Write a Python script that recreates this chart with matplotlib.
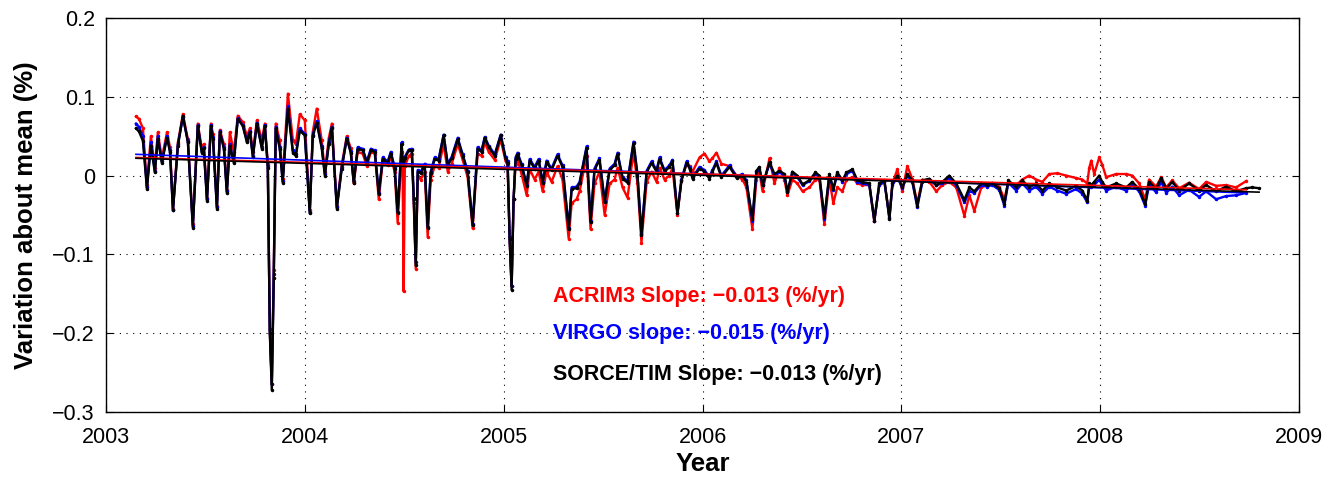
#!/usr/bin/env python3
# coding: utf-8

import numpy as np
import matplotlib
matplotlib.use("Agg")
import matplotlib.pyplot as plt

# decimal year of each sample
years = [
    2003.151, 2003.166, 2003.186, 2003.206, 2003.226, 2003.246, 2003.261, 2003.281, 2003.307, 2003.322,
    2003.337, 2003.362, 2003.387, 2003.412, 2003.437, 2003.462, 2003.482, 2003.492, 2003.508, 2003.528,
    2003.538, 2003.558, 2003.573, 2003.593, 2003.608, 2003.623, 2003.643, 2003.663, 2003.688, 2003.709,
    2003.724, 2003.739, 2003.759, 2003.784, 2003.799, 2003.814, 2003.824, 2003.834, 2003.844, 2003.854,
    2003.874, 2003.889, 2003.915, 2003.940, 2003.955, 2003.975, 2004.000, 2004.025, 2004.040, 2004.060,
    2004.085, 2004.101, 2004.121, 2004.136, 2004.161, 2004.186, 2004.211, 2004.231, 2004.246, 2004.266,
    2004.291, 2004.312, 2004.332, 2004.352, 2004.372, 2004.392, 2004.417, 2004.432, 2004.452, 2004.467,
    2004.487, 2004.492, 2004.497, 2004.503, 2004.523, 2004.538, 2004.548, 2004.558, 2004.568, 2004.583,
    2004.603, 2004.618, 2004.633, 2004.653, 2004.673, 2004.698, 2004.719, 2004.739, 2004.769, 2004.794,
    2004.819, 2004.844, 2004.869, 2004.889, 2004.905, 2004.925, 2004.955, 2004.985, 2005.010, 2005.020,
    2005.030, 2005.040, 2005.050, 2005.060, 2005.070, 2005.090, 2005.116, 2005.131, 2005.156, 2005.176,
    2005.196, 2005.216, 2005.241, 2005.271, 2005.296, 2005.327, 2005.342, 2005.367, 2005.382, 2005.417,
    2005.437, 2005.457, 2005.482, 2005.508, 2005.533, 2005.558, 2005.573, 2005.598, 2005.623, 2005.653,
    2005.673, 2005.693, 2005.719, 2005.744, 2005.769, 2005.784, 2005.809, 2005.834, 2005.849, 2005.874,
    2005.894, 2005.920, 2005.935, 2005.950, 2005.985, 2006.010, 2006.035, 2006.050, 2006.070, 2006.095,
    2006.136, 2006.171, 2006.201, 2006.221, 2006.251, 2006.271, 2006.286, 2006.302, 2006.337, 2006.362,
    2006.387, 2006.412, 2006.427, 2006.452, 2006.477, 2006.503, 2006.538, 2006.568, 2006.588, 2006.613,
    2006.638, 2006.658, 2006.678, 2006.704, 2006.724, 2006.754, 2006.779, 2006.804, 2006.839, 2006.864,
    2006.889, 2006.915, 2006.940, 2006.955, 2006.980, 2007.005, 2007.030, 2007.055, 2007.080, 2007.106,
    2007.141, 2007.176, 2007.206, 2007.241, 2007.276, 2007.317, 2007.342, 2007.367, 2007.402, 2007.432,
    2007.457, 2007.492, 2007.518, 2007.538, 2007.578, 2007.608, 2007.643, 2007.678, 2007.709, 2007.744,
    2007.784, 2007.829, 2007.879, 2007.910, 2007.935, 2007.945, 2007.955, 2007.970, 2007.995, 2008.010,
    2008.030, 2008.080, 2008.131, 2008.161, 2008.196, 2008.226, 2008.246, 2008.281, 2008.307, 2008.332,
    2008.362, 2008.397, 2008.447, 2008.497, 2008.533, 2008.583, 2008.633, 2008.683, 2008.734, 2008.764,
    2008.799,
]

# SORCE/TIM variation about mean (%)
tim = [
    0.060, 0.056, 0.044, -0.017, 0.038, 0.004, 0.047, 0.016, 0.048, 0.030,
    -0.044, 0.038, 0.076, 0.042, -0.066, 0.063, 0.029, 0.035, -0.032, 0.063,
    0.047, -0.042, 0.055, 0.034, -0.022, 0.038, 0.016, 0.072, 0.063, 0.042,
    0.055, 0.023, 0.066, 0.034, 0.063, 0.010, -0.200, -0.272, -0.130, 0.060,
    0.034, -0.009, 0.085, 0.029, 0.025, 0.057, 0.051, -0.048, 0.050, 0.067,
    0.035, 0.000, 0.040, 0.061, -0.042, 0.009, 0.047, 0.029, -0.009, 0.034,
    0.032, 0.016, 0.032, 0.030, -0.023, 0.021, 0.016, 0.028, 0.009, -0.047,
    0.040, 0.016, 0.020, 0.022, 0.032, 0.032, -0.030, -0.114, 0.005, 0.003,
    0.013, -0.066, 0.003, 0.021, 0.019, 0.051, 0.013, 0.022, 0.046, 0.025,
    0.004, -0.063, 0.034, 0.030, 0.048, 0.036, 0.025, 0.051, 0.021, 0.016,
    -0.080, -0.145, -0.030, 0.021, 0.027, 0.013, -0.013, 0.019, 0.009, 0.019,
    -0.009, 0.017, 0.007, 0.025, 0.011, -0.068, -0.017, -0.016, -0.010, 0.035,
    -0.059, 0.007, 0.020, -0.034, 0.007, 0.013, 0.027, -0.004, -0.009, 0.041,
    0.000, -0.076, 0.004, 0.016, 0.005, 0.021, 0.005, 0.011, 0.018, -0.048,
    -0.007, 0.016, 0.009, -0.004, 0.009, 0.005, -0.004, 0.005, 0.016, -0.002,
    0.011, -0.003, 0.000, -0.008, -0.055, 0.006, 0.011, -0.012, 0.017, 0.002,
    0.006, 0.002, -0.021, 0.005, 0.000, -0.011, -0.006, 0.004, 0.000, -0.053,
    0.002, -0.017, 0.004, -0.006, 0.004, 0.008, -0.006, -0.008, -0.010, -0.057,
    -0.010, -0.006, -0.055, -0.010, 0.000, -0.015, 0.002, -0.006, -0.038, -0.006,
    -0.004, -0.012, -0.008, 0.000, -0.010, -0.031, -0.015, -0.020, -0.010, -0.012,
    -0.010, -0.016, -0.036, -0.006, -0.015, -0.006, -0.015, -0.010, -0.019, -0.010,
    -0.015, -0.019, -0.013, -0.019, -0.032, -0.010, -0.012, -0.008, 0.000, -0.008,
    -0.015, -0.010, -0.015, -0.008, -0.017, -0.036, -0.008, -0.017, -0.003, -0.017,
    -0.008, -0.019, -0.010, -0.019, -0.012, -0.020, -0.014, -0.020, -0.016, -0.015,
    -0.016,
]

# VIRGO variation about mean (%), ends before TIM
virgo = [
    0.066, 0.062, 0.050, -0.015, 0.042, 0.006, 0.050, 0.018, 0.050, 0.032,
    -0.044, 0.040, 0.074, 0.044, -0.064, 0.064, 0.030, 0.036, -0.030, 0.064,
    0.049, -0.040, 0.056, 0.036, -0.020, 0.040, 0.018, 0.073, 0.064, 0.044,
    0.056, 0.025, 0.067, 0.036, 0.064, 0.012, -0.195, -0.265, -0.125, 0.062,
    0.036, -0.007, 0.088, 0.032, 0.027, 0.060, 0.053, -0.046, 0.052, 0.069,
    0.037, 0.002, 0.042, 0.062, -0.040, 0.011, 0.048, 0.031, -0.007, 0.036,
    0.034, 0.018, 0.034, 0.032, -0.022, 0.023, 0.018, 0.030, 0.011, -0.046,
    0.042, 0.018, 0.022, 0.024, 0.033, 0.034, -0.028, -0.110, 0.007, 0.005,
    0.015, -0.065, 0.005, 0.023, 0.021, 0.052, 0.015, 0.024, 0.048, 0.027,
    0.006, -0.061, 0.036, 0.032, 0.049, 0.038, 0.027, 0.052, 0.023, 0.018,
    -0.078, -0.140, -0.030, 0.023, 0.029, 0.015, -0.012, 0.021, 0.011, 0.021,
    -0.008, 0.019, 0.009, 0.027, 0.013, -0.066, -0.015, -0.014, -0.008, 0.037,
    -0.057, 0.009, 0.022, -0.032, 0.009, 0.015, 0.029, -0.002, -0.007, 0.043,
    0.002, -0.074, 0.006, 0.018, 0.007, 0.023, 0.007, 0.013, 0.020, -0.047,
    -0.005, 0.018, 0.011, -0.002, 0.011, 0.007, -0.002, 0.007, 0.018, 0.000,
    0.013, -0.001, 0.002, -0.006, -0.058, 0.004, 0.009, -0.012, 0.015, 0.000,
    0.004, 0.000, -0.020, 0.003, -0.002, -0.012, -0.007, 0.002, -0.002, -0.055,
    0.000, -0.018, 0.002, -0.008, 0.002, 0.006, -0.008, -0.010, -0.012, -0.057,
    -0.012, -0.008, -0.054, -0.012, -0.002, -0.016, 0.000, -0.008, -0.040, -0.008,
    -0.006, -0.012, -0.010, -0.003, -0.012, -0.034, -0.020, -0.022, -0.012, -0.014,
    -0.012, -0.018, -0.038, -0.009, -0.019, -0.010, -0.019, -0.014, -0.023, -0.014,
    -0.019, -0.023, -0.017, -0.023, -0.034, -0.014, -0.015, -0.012, -0.005, -0.012,
    -0.019, -0.014, -0.019, -0.012, -0.020, -0.038, -0.012, -0.021, -0.008, -0.022,
    -0.014, -0.025, -0.018, -0.027, -0.020, -0.030, -0.026, -0.025, -0.022, np.nan,
    np.nan,
]

# ACRIM3 variation about mean (%), ends before TIM
acrim = [
    0.075, 0.072, 0.060, -0.012, 0.050, 0.010, 0.055, 0.022, 0.055, 0.036,
    -0.042, 0.042, 0.078, 0.046, -0.062, 0.066, 0.034, 0.040, -0.028, 0.066,
    0.053, -0.038, 0.058, 0.040, -0.018, 0.055, 0.030, 0.076, 0.068, 0.050,
    0.060, 0.030, 0.070, 0.045, 0.066, 0.015, -0.195, -0.265, -0.120, 0.066,
    0.045, -0.004, 0.104, 0.045, 0.040, 0.078, 0.070, -0.044, 0.055, 0.085,
    0.045, 0.005, 0.048, 0.066, -0.038, 0.014, 0.050, 0.035, -0.010, 0.030,
    0.028, 0.012, 0.030, 0.028, -0.030, 0.018, 0.014, 0.024, 0.005, -0.060,
    0.030, 0.005, -0.147, 0.012, 0.025, 0.028, -0.035, -0.118, 0.000, -0.005,
    0.005, -0.078, -0.005, 0.012, 0.010, 0.040, 0.005, 0.015, 0.040, 0.020,
    -0.002, -0.067, 0.028, 0.025, 0.042, 0.030, 0.020, 0.046, 0.018, 0.013,
    -0.080, -0.140, -0.030, 0.015, 0.020, 0.002, -0.025, 0.008, -0.005, 0.005,
    -0.020, 0.005, -0.008, 0.012, -0.005, -0.080, -0.035, -0.030, -0.020, 0.025,
    -0.068, -0.010, 0.005, -0.050, -0.010, -0.005, 0.010, -0.015, -0.028, 0.030,
    -0.010, -0.085, -0.008, 0.005, -0.008, 0.010, -0.005, 0.000, 0.010, -0.050,
    -0.005, 0.015, 0.012, 0.005, 0.023, 0.028, 0.018, 0.022, 0.029, 0.015,
    0.012, 0.000, -0.005, -0.015, -0.068, -0.005, 0.005, -0.020, 0.022, -0.010,
    0.010, -0.005, -0.025, -0.005, -0.010, -0.020, -0.015, -0.005, -0.005, -0.062,
    -0.005, -0.035, -0.015, -0.020, -0.005, -0.002, -0.010, -0.012, -0.012, -0.058,
    -0.012, -0.008, -0.052, -0.010, 0.008, -0.020, 0.012, -0.004, -0.035, -0.005,
    -0.008, -0.020, -0.012, -0.008, -0.015, -0.051, -0.025, -0.045, -0.015, -0.012,
    -0.010, -0.014, -0.030, -0.008, -0.012, -0.005, 0.000, -0.005, -0.008, 0.002,
    0.003, 0.000, -0.003, -0.005, -0.010, 0.010, 0.019, 0.002, 0.023, 0.014,
    -0.002, 0.002, 0.002, 0.000, -0.010, -0.030, -0.005, -0.014, -0.002, -0.015,
    -0.006, -0.016, -0.009, -0.017, -0.008, -0.013, -0.012, -0.015, -0.007, np.nan,
    np.nan,
]

# linear trend end points (year, %)
acrim_trend_x = [2003.151, 2008.734]
acrim_trend_y = [0.023, -0.018]
virgo_trend_x = [2003.151, 2008.734]
virgo_trend_y = [0.027, -0.022]
tim_trend_x = [2003.151, 2008.799]
tim_trend_y = [0.022, -0.021]

slope_labels = [
    ("ACRIM3 Slope: \u22120.013 (%/yr)", "#ff0000"),
    ("VIRGO slope: \u22120.015 (%/yr)", "#0000ff"),
    ("SORCE/TIM Slope: \u22120.013 (%/yr)", "#000000"),
]
label_y = [-0.153, -0.200, -0.253]

plt.rcParams['font.family'] = ['Liberation Sans', 'DejaVu Sans']

fig = plt.figure(figsize=(13.31, 4.8), dpi=100)
ax = fig.add_axes([0.0796, 0.1417, 0.8964, 0.8208])

ax.plot(years, acrim, color="#ff0000", lw=1.7, marker=".", ms=3)
ax.plot(years, virgo, color="#0000ff", lw=1.7, marker=".", ms=3)
ax.plot(years, tim, color="#000000", lw=1.7, marker=".", ms=3)

ax.plot(virgo_trend_x, virgo_trend_y, color="#0000ff", lw=1.2)
ax.plot(acrim_trend_x, acrim_trend_y, color="#ff0000", lw=1.2)
ax.plot(tim_trend_x, tim_trend_y, color="#000000", lw=1.2)

for (txt, col), yy in zip(slope_labels, label_y):
    ax.text(2005.246, yy, txt, color=col, fontsize=15.5, fontweight="bold",
            ha="left", va="center")

ax.set_xlim(2003, 2009)
ax.set_ylim(-0.3, 0.2)
ax.set_xticks(np.arange(2003, 2010, 1))
ax.set_yticks([-0.3, -0.2, -0.1, 0, 0.1, 0.2])
ax.set_yticklabels(["\u22120.3", "\u22120.2", "\u22120.1", "0", "0.1", "0.2"])
ax.grid(True, color="black", linestyle=(0, (1, 5)), linewidth=0.8)
ax.tick_params(direction="in", top=True, right=True, labelsize=15.5, length=5)
ax.tick_params(axis="x", pad=11)
ax.tick_params(axis="y", pad=8)
for s in ax.spines.values():
    s.set_linewidth(1.0)

ax.set_xlabel("Year", fontsize=18.5, fontweight="bold", labelpad=3)
ax.set_ylabel("Variation about mean (%)", fontsize=18.5, fontweight="bold", labelpad=10)

plt.savefig("out.png", dpi=100)
